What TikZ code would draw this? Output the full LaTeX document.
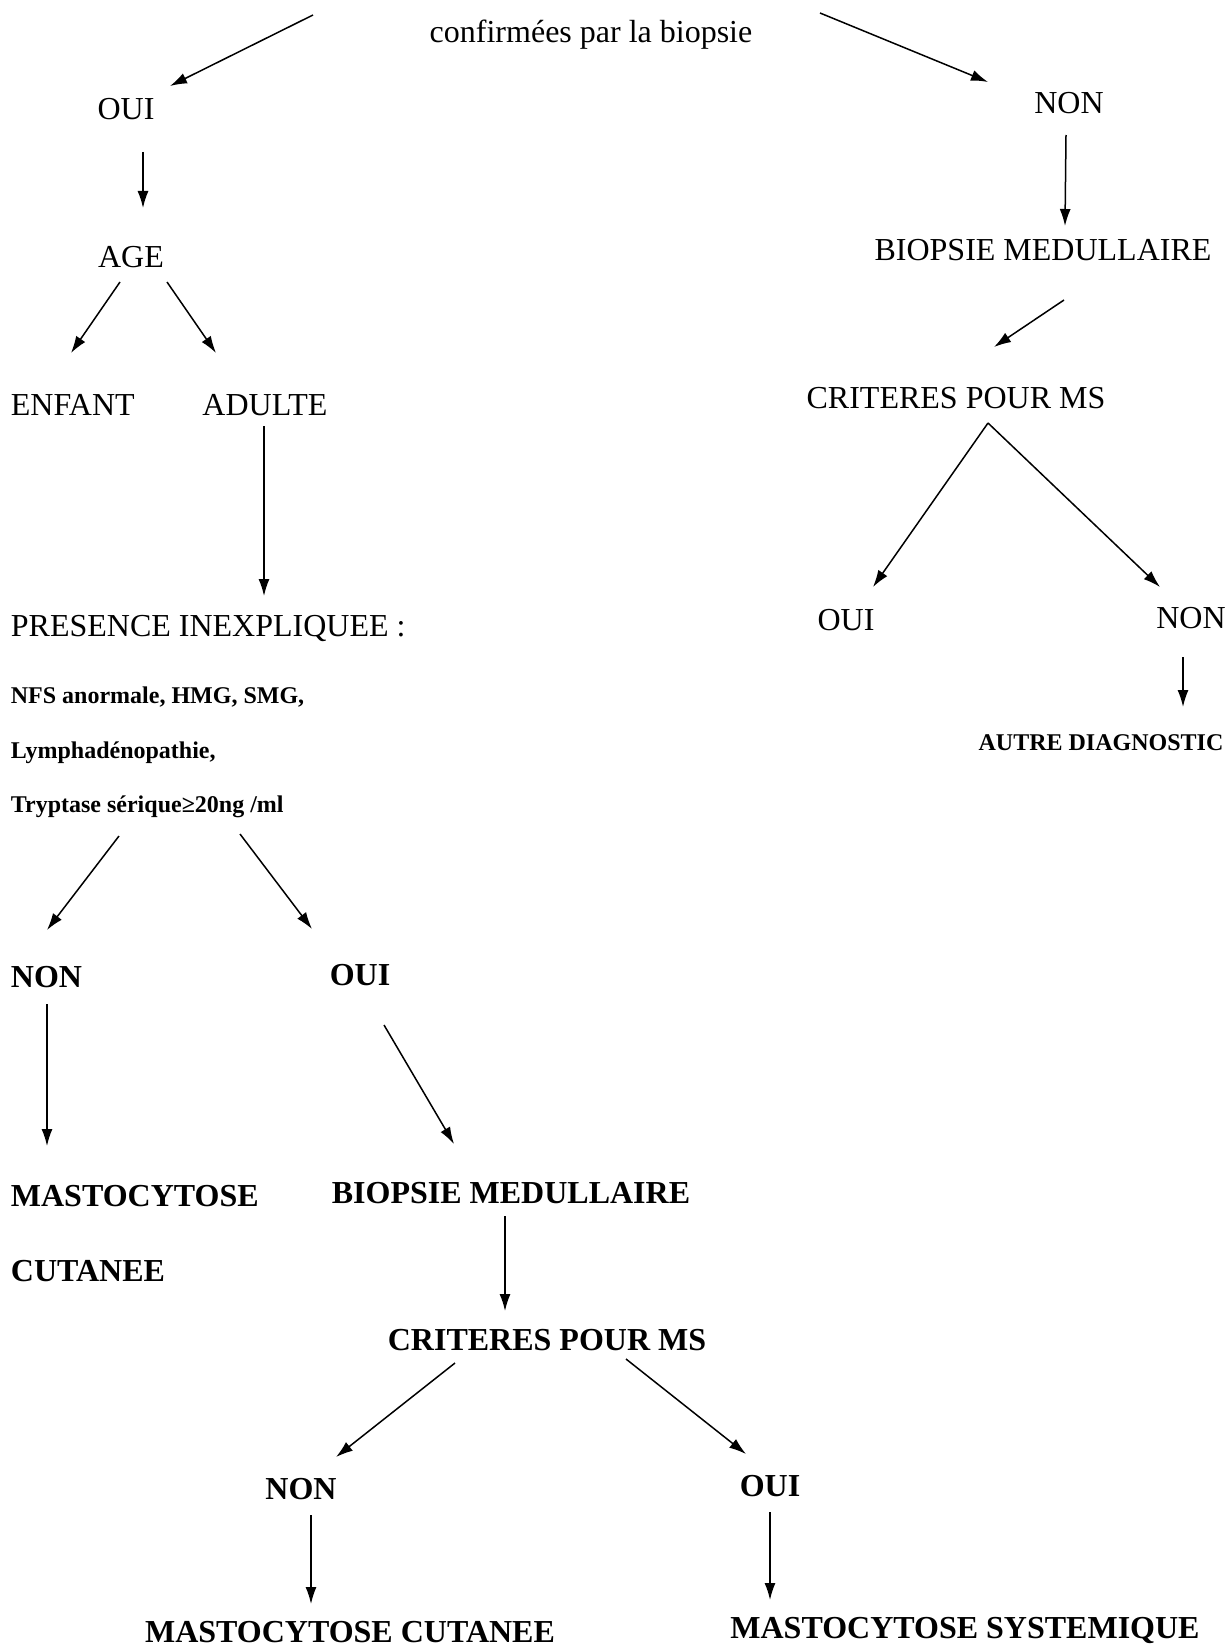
\documentclass[tikz,border=0pt]{standalone}
\usepackage{fontspec}
\setmainfont{Liberation Serif}
\usetikzlibrary{arrows.meta}
\begin{document}
\begin{tikzpicture}[x=0.5pt,y=-0.5pt,
  txt/.style={inner sep=0pt,font=\fontsize{16}{19}\selectfont},
  btxt/.style={inner sep=0pt,font=\fontsize{16}{19}\selectfont\bfseries},
  sbtxt/.style={inner sep=0pt,font=\fontsize{12}{14}\selectfont\bfseries},
  arr/.style={-{Latex[length=8.5pt,width=5.5pt]},line width=0.75pt}]
\useasboundingbox[fill=white] (0,0) rectangle (1228,1648);
% nodes
\node[txt] (top) at (591,35) {confirmées par la biopsie};
\node[txt] (ouiA) at (126,109) {OUI};
\node[txt] (nonA) at (1069,103) {NON};
\node[txt] (age) at (131,257) {AGE};
\node[txt] (biopA) at (1043,250) {BIOPSIE MEDULLAIRE};
\node[txt] (critA) at (956,398) {CRITERES POUR MS};
\node[txt,anchor=west] (enfant) at (10.5,405) {ENFANT};
\node[txt] (adulte) at (265,405) {ADULTE};
\node[txt,anchor=west] (presence) at (10.5,628) {PRESENCE INEXPLIQUEE :};
\node[sbtxt,anchor=west] (nfs) at (10.5,697) {NFS anormale, HMG, SMG,};
\node[sbtxt,anchor=west] (lymph) at (10.5,753) {Lymphadénopathie,};
\node[sbtxt,anchor=west] (tryp) at (10.5,807) {Tryptase sérique≥20ng /ml};
\node[txt] (ouiB) at (846,620) {OUI};
\node[txt] (nonB) at (1191,618) {NON};
\node[sbtxt] (autre) at (1101,743) {AUTRE DIAGNOSTIC};
\node[btxt,anchor=west] (nonC) at (10.5,977) {NON};
\node[btxt] (ouiC) at (360,975) {OUI};
\node[btxt,anchor=west] (masto) at (10.5,1196) {MASTOCYTOSE};
\node[btxt,anchor=west] (cutanee) at (10.5,1271) {CUTANEE};
\node[btxt] (biopB) at (511,1193) {BIOPSIE MEDULLAIRE};
\node[btxt] (critB) at (547,1340) {CRITERES POUR MS};
\node[btxt] (nonD) at (301,1489) {NON};
\node[btxt] (ouiD) at (770,1486) {OUI};
\node[btxt] (mcut) at (350,1632) {MASTOCYTOSE CUTANEE};
\node[btxt] (msys) at (965,1630) {MASTOCYTOSE SYSTEMIQUE};
% connectors
\draw[arr] ([shift={(-278,-20)}]top.center) -- ([shift={(44,-23)}]ouiA.center);
\draw[arr] ([shift={(229,-22)}]top.center) -- ([shift={(-81,-21)}]nonA.center);
\draw[arr] ([shift={(17,43)}]ouiA.center) -- ([shift={(12,-49)}]age.center);
\draw[arr] ([shift={(-11,25)}]age.center) -- ([shift={(60.5,-52)}]enfant.west);
\draw[arr] ([shift={(36,25)}]age.center) -- ([shift={(-49,-52)}]adulte.center);
\draw[arr] ([shift={(-3,32)}]nonA.center) -- ([shift={(22,-24)}]biopA.center);
\draw[arr] ([shift={(21,50)}]biopA.center) -- ([shift={(38,-51)}]critA.center);
\draw[arr] ([shift={(-1,21)}]adulte.center) -- ([shift={(253.5,-32)}]presence.west);
\draw[arr] ([shift={(32,25)}]critA.center) -- ([shift={(27,-33)}]ouiB.center);
\draw[arr] ([shift={(32,25)}]critA.center) -- ([shift={(-31,-31)}]nonB.center);
\draw[arr] ([shift={(-8,39)}]nonB.center) -- ([shift={(82,-36)}]autre.center);
\draw[arr] ([shift={(108.5,29)}]tryp.west) -- ([shift={(36.5,-47)}]nonC.west);
\draw[arr] ([shift={(229.5,27)}]tryp.west) -- ([shift={(-48,-46)}]ouiC.center);
\draw[arr] ([shift={(36.5,27)}]nonC.west) -- ([shift={(36.5,-50)}]masto.west);
\draw[arr] ([shift={(24,50)}]ouiC.center) -- ([shift={(-57,-49)}]biopB.center);
\draw[arr] ([shift={(-6,23)}]biopB.center) -- ([shift={(-42,-29)}]critB.center);
\draw[arr] ([shift={(-92,23)}]critB.center) -- ([shift={(35,-32)}]nonD.center);
\draw[arr] ([shift={(79,19)}]critB.center) -- ([shift={(-24,-32)}]ouiD.center);
\draw[arr] ([shift={(10,26)}]nonD.center) -- ([shift={(-39,-28)}]mcut.center);
\draw[arr] ([shift={(0,26)}]ouiD.center) -- ([shift={(-195,-30)}]msys.center);
\end{tikzpicture}
\end{document}
